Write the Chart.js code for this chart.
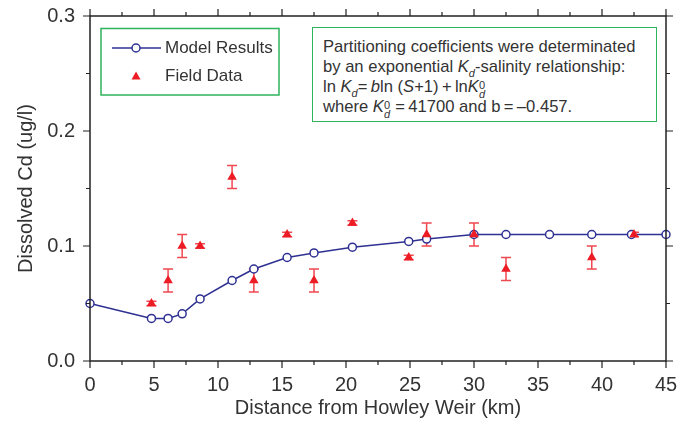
<!DOCTYPE html>
<html>
<head>
<meta charset="utf-8">
<script src="https://cdn.jsdelivr.net/npm/chart.js@4.4.0/dist/chart.umd.min.js"></script>
<style>
  body { margin: 0; background: #fff; }
  #wrap { position: relative; width: 694px; height: 428px; font-family: 'Liberation Sans', Arial, sans-serif; }
  #note {
    position: absolute; left: 312px; top: 27px; width: 345px; height: 95px;
    box-sizing: border-box; border: 1.5px solid #2fb35c; background: #fff;
    padding: 9px 0 0 10px; font-size: 16.6px; line-height: 20px; color: #333; white-space: nowrap;
  }
  #note i { font-style: italic; }
  .sb { display: inline-block; position: relative; top: 5px; font-size: 11px; font-style: italic; line-height: 0; }
  .st { display: inline-block; position: relative; width: 8px; height: 0; font-size: 11px; }
  .st .up { position: absolute; left: 0; top: -13.5px; line-height: normal; }
  .st .dn { position: absolute; left: 0; top: -4.5px; line-height: normal; font-style: italic; }
</style>
</head>
<body>
<div id="wrap">
  <canvas id="chart" width="694" height="428"></canvas>
  <div id="note">
    Partitioning coefficients were determinated<br>
    by an exponential <i>K</i><span class="sb">d</span>-salinity relationship:<br>
    ln <i>K</i><span class="sb">d</span>=&thinsp;<i>b</i>ln (<i>S</i>+1)&thinsp;+&thinsp;ln<i>K</i><span class="st"><span class="up">0</span><span class="dn">d</span></span><br>
    where <i>K</i><span class="st"><span class="up">0</span><span class="dn">d</span></span>&thinsp;=&thinsp;41700 and b&thinsp;=&thinsp;&ndash;0.457.
  </div>
</div>
<script>
// model curve (km, ug/l)
const modelKm = [0, 4.8, 6.1, 7.2, 8.6, 11.1, 12.8, 15.4, 17.5, 20.5, 24.9, 26.3, 30.0, 32.5, 35.9, 39.2, 42.3, 45];
const modelCd = [0.050, 0.037, 0.037, 0.041, 0.054, 0.070, 0.080, 0.090, 0.094, 0.099, 0.104, 0.106, 0.110, 0.110, 0.110, 0.110, 0.110, 0.110];

// field measurements with error bars
const fieldKm = [4.8, 6.1, 7.2, 8.6, 11.1, 12.8, 15.4, 17.5, 20.5, 24.9, 26.3, 30.0, 32.5, 39.2, 42.5];
const fieldCd = [0.05, 0.07, 0.10, 0.10, 0.16, 0.07, 0.11, 0.07, 0.12, 0.09, 0.11, 0.11, 0.08, 0.09, 0.11];
const fieldErr = [0.002, 0.01, 0.01, 0.002, 0.01, 0.01, 0.002, 0.01, 0.002, 0.002, 0.01, 0.01, 0.01, 0.01, 0.002];

const blue = '#2e3192';
const red = '#ed1c24';
const green = '#2fb35c';
const font = "'Liberation Sans', Arial, sans-serif";

const errorBars = {
  id: 'errorBars',
  beforeDatasetsDraw(chart) {
    const { ctx, scales: { x, y } } = chart;
    ctx.save();
    ctx.strokeStyle = '#f04850';
    ctx.lineWidth = 1.5;
    ctx.beginPath();
    fieldKm.forEach((km, i) => {
      const px = x.getPixelForValue(km);
      const hi = y.getPixelForValue(fieldCd[i] + fieldErr[i]);
      const lo = y.getPixelForValue(fieldCd[i] - fieldErr[i]);
      ctx.moveTo(px, hi); ctx.lineTo(px, lo);
      ctx.moveTo(px - 5, hi); ctx.lineTo(px + 5, hi);
      ctx.moveTo(px - 5, lo); ctx.lineTo(px + 5, lo);
    });
    ctx.stroke();
    ctx.restore();
  }
};

const frame = {
  id: 'frame',
  afterDatasetsDraw(chart) {
    const { ctx, chartArea: a, scales: { x, y } } = chart;
    ctx.save();
    ctx.strokeStyle = '#222';
    ctx.lineWidth = 1.5;
    ctx.strokeRect(a.left, a.top, a.right - a.left, a.bottom - a.top);
    ctx.lineWidth = 1.2;
    ctx.beginPath();
    for (let i = 0; i <= 18; i++) {
      const px = x.getPixelForValue(i * 2.5);
      const len = i % 2 === 0 ? 7 : 4;
      ctx.moveTo(px, a.bottom); ctx.lineTo(px, a.bottom + len);
      ctx.moveTo(px, a.top); ctx.lineTo(px, a.top - len);
    }
    for (let i = 0; i <= 6; i++) {
      const py = y.getPixelForValue(i * 0.05);
      const len = i % 2 === 0 ? 7 : 4;
      ctx.moveTo(a.left, py); ctx.lineTo(a.left - len, py);
      ctx.moveTo(a.right, py); ctx.lineTo(a.right + len, py);
    }
    ctx.stroke();
    ctx.restore();
  }
};

const legendBox = {
  id: 'legendBox',
  afterDraw(chart) {
    const { ctx } = chart;
    const ds = chart.data.datasets;
    ctx.save();
    ctx.strokeStyle = green;
    ctx.lineWidth = 1.5;
    ctx.fillStyle = '#fff';
    ctx.fillRect(101, 28.5, 178, 66.5);
    ctx.strokeRect(101, 28.5, 178, 66.5);
    // model line sample
    ctx.strokeStyle = blue;
    ctx.beginPath(); ctx.moveTo(112, 48); ctx.lineTo(161, 48); ctx.stroke();
    ctx.beginPath(); ctx.arc(136, 48, 4, 0, Math.PI * 2);
    ctx.fillStyle = '#fff'; ctx.fill(); ctx.stroke();
    // field triangle
    ctx.fillStyle = red;
    ctx.beginPath(); ctx.moveTo(136, 71.5); ctx.lineTo(140.5, 79.5); ctx.lineTo(131.5, 79.5); ctx.closePath(); ctx.fill();
    ctx.fillStyle = '#333';
    ctx.font = '17px ' + font;
    ctx.textBaseline = 'middle';
    ctx.fillText(ds[0].label, 165, 48);
    ctx.fillText(ds[1].label, 165, 76);
    ctx.restore();
  }
};

new Chart(document.getElementById('chart'), {
  type: 'scatter',
  data: {
    datasets: [
      {
        label: 'Model Results',
        data: modelKm.map((km, i) => ({ x: km, y: modelCd[i] })),
        showLine: true,
        borderColor: blue,
        borderWidth: 1.5,
        pointRadius: 4,
        pointBorderWidth: 1.5,
        pointBackgroundColor: '#fff',
        pointBorderColor: blue,
        clip: false,
        order: 2
      },
      {
        label: 'Field Data',
        data: fieldKm.map((km, i) => ({ x: km, y: fieldCd[i] })),
        pointStyle: 'triangle',
        pointRadius: 5.5,
        pointBorderWidth: 0,
        pointBackgroundColor: red,
        pointBorderColor: red,
        order: 1
      }
    ]
  },
  options: {
    responsive: false,
    animation: false,
    events: [],
    layout: { padding: { top: 16, right: 28, left: 0, bottom: 0 } },
    plugins: { legend: { display: false }, tooltip: { enabled: false } },
    scales: {
      x: {
        type: 'linear', min: 0, max: 45,
        grid: { display: false, drawTicks: false },
        border: { display: false },
        ticks: { stepSize: 5, color: '#333', padding: 12, font: { family: font, size: 20 } },
        title: { display: true, text: 'Distance from Howley Weir (km)', color: '#333', padding: { top: 0, bottom: 8 }, font: { family: font, size: 20 } },
        afterFit(s) { s.height = 67; s.paddingLeft = 0; s.paddingRight = 0; }
      },
      y: {
        min: 0, max: 0.3,
        grid: { display: false, drawTicks: false },
        border: { display: false },
        ticks: { stepSize: 0.1, color: '#333', padding: 15, font: { family: font, size: 20 }, callback: v => v.toFixed(1) },
        title: { display: true, text: 'Dissolved Cd (ug/l)', color: '#333', padding: { top: 14, bottom: 0 }, font: { family: font, size: 20 } },
        afterFit(s) { s.width = 90; s.paddingTop = 0; s.paddingBottom = 0; }
      }
    }
  },
  plugins: [errorBars, frame, legendBox]
});
</script>
</body>
</html>
